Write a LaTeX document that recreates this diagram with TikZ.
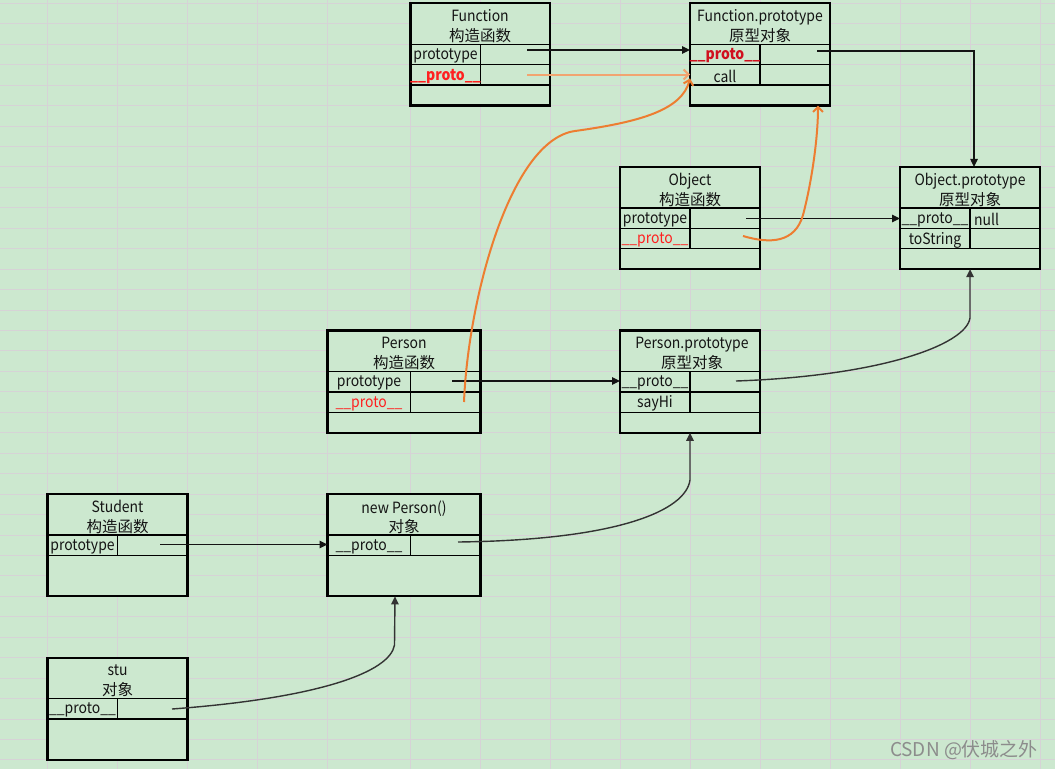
\documentclass[tikz,border=0pt]{standalone}
\usepackage{fontspec}
\setmainfont{Noto Sans CJK SC}
\newfontfamily\latn{Noto Sans CJK SC}[FakeStretch=0.9]
\usetikzlibrary{arrows.meta}
\definecolor{bg}{HTML}{CCE8CF}
\definecolor{gridc}{HTML}{D6D3D6}
\definecolor{org}{HTML}{ED7D31}
\definecolor{orgl}{HTML}{F2A470}
\definecolor{ink}{HTML}{141414}
\definecolor{curvec}{HTML}{333333}
\definecolor{redt}{HTML}{FF2020}
\definecolor{redd}{HTML}{D0101E}
\definecolor{wmc}{HTML}{8C8C8C}
\newcommand{\fullbox}[5]{%
  \node[tbl, minimum width={#3-#2}] (#1) at (#2,#4) {};
  \draw[sep] (#2,{#4+40.9}) -- (#3,{#4+40.9})
             (#2,{#4+61.35}) -- (#3,{#4+61.35})
             (#2,{#4+81.8}) -- (#3,{#4+81.8})
             (#5,{#4+40.9}) -- (#5,{#4+81.8});
}
\newcommand{\smallbox}[5]{%
  \node[tbl, minimum width={#3-#2}] (#1) at (#2,#4) {};
  \draw[sep] (#2,{#4+40.9}) -- (#3,{#4+40.9})
             (#2,{#4+61.35}) -- (#3,{#4+61.35})
             (#5,{#4+40.9}) -- (#5,{#4+61.35});
}
\begin{document}
\begin{tikzpicture}[x=1pt,y=-1pt,
  tbl/.style={draw=black, fill=bg, line width=2.2pt, anchor=north west, inner sep=0pt, outer sep=0pt, minimum height=102.25pt},
  sep/.style={draw=black, line width=1.4pt},
  txt/.style={inner sep=0pt, yshift=-1.5pt, text=ink, font=\fontsize{15.5}{18}\latn},
  hdr/.style={inner sep=0pt, yshift=-1pt, text=ink, align=center, font=\fontsize{15.5}{19.5}\selectfont},
  redtxt/.style={inner sep=0pt, yshift=-1.5pt, text=redt, font=\fontsize{15.5}{18}\latn},
  boldred/.style={inner sep=0pt, yshift=-1.5pt, text=#1, font=\fontsize{15.5}{18}\latn\bfseries},
  blk/.style={draw=ink, line width=1.2pt, -{Triangle[length=8pt,width=7.5pt]}},
  crv/.style={draw=curvec, line width=1.4pt, -{Triangle[length=8pt,width=7.5pt]}},
  orng/.style={draw=#1, line width=2pt, -{Straight Barb[length=5pt,width=10pt]}},
  gridl/.style={draw=gridc, line width=1pt}
]
\useasboundingbox (0,0) rectangle (1055,769);
\fill[bg] (0,0) rectangle (1055,769);
% spreadsheet grid
\foreach \gx in {47.5,117.5,187.5,257.5,327.5,410.5,480.5,550,620,690,760,830,900,970,1040}
  \draw[gridl] (\gx,0) -- (\gx,769);
\foreach \k in {0,...,37}
  \draw[gridl] (0,{3.3+20.45*\k}) -- (1055,{3.3+20.45*\k});

% boxes
\fullbox{Fn}{410.5}{550}{3.3}{480.5}
\fullbox{FP}{690}{830}{3.3}{760}
\fullbox{Ob}{620}{760}{166.9}{690}
\fullbox{OP}{900}{1040}{166.9}{970}
\fullbox{Pe}{327.5}{480.5}{330.5}{410.5}
\fullbox{PP}{620}{760}{330.5}{690}
\smallbox{St}{47.5}{187.5}{494.1}{117.5}
\smallbox{NP}{327.5}{480.5}{494.1}{410.5}
\smallbox{Su}{47.5}{187.5}{657.7}{117.5}

% texts
\node[hdr] (tFnH) at (480,25.3) {{\latn Function}\\构造函数};
\node[txt] (tFnA) at (445.5,54.4) {prototype};
\node[boldred=redt] (tFnB) at (445.5,74.9) {\_\_proto\_\_};

\node[hdr] (tFPH) at (760,25.3) {{\latn Function.prototype}\\原型对象};
\node[boldred=redd] (tFPA) at (725,54.4) {\_\_proto\_\_};
\node[txt] (tFPB) at (725,74.9) {call};

\node[hdr] (tObH) at (690,188.9) {{\latn Object}\\构造函数};
\node[txt] (tObA) at (655,218) {prototype};
\node[redtxt] (tObB) at (655,238.5) {\_\_proto\_\_};

\node[hdr] (tOPH) at (970,188.9) {{\latn Object.prototype}\\原型对象};
\node[txt] (tOPA) at (935,218) {\_\_proto\_\_};
\node[txt, anchor=west] (tOPN) at (974,218) {null};
\node[txt] (tOPB) at (935,238.5) {toString};

\node[hdr] (tPeH) at (404,352.5) {{\latn Person}\\构造函数};
\node[txt] (tPeA) at (369,381.6) {prototype};
\node[redtxt] (tPeB) at (369,402.1) {\_\_proto\_\_};

\node[hdr] (tPPH) at (692,352.5) {{\latn Person.prototype}\\原型对象};
\node[txt] (tPPA) at (655,381.6) {\_\_proto\_\_};
\node[txt] (tPPB) at (655,402.1) {sayHi};

\node[hdr] (tStH) at (117.5,516.1) {{\latn Student}\\构造函数};
\node[txt] (tStA) at (82.5,545.2) {prototype};

\node[hdr] (tNPH) at (404,516.1) {{\latn new Person()}\\对象};
\node[txt] (tNPA) at (369,545.2) {\_\_proto\_\_};

\node[hdr] (tSuH) at (117.5,679.7) {{\latn stu}\\对象};
\node[txt] (tSuA) at (82.5,708.8) {\_\_proto\_\_};

\node[inner sep=0pt, text=wmc, font=\fontsize{19}{22}\selectfont] (wm) at (964,750.5) {CSDN @伏城之外};

% connector start points
\coordinate (sFnA) at (527,50);
\coordinate (sFnB) at (527,74.5);
\coordinate (sFP) at (817,51);
\coordinate (sObA) at (746,218.5);
\coordinate (sObB) at (743,236);
\coordinate (sPeA) at (452,381);
\coordinate (sPeB) at (464,402);
\coordinate (sPP) at (736,381);
\coordinate (sNP) at (458,542);
\coordinate (sSt) at (160,544.5);
\coordinate (sSu) at (172,709);

% connectors
\draw[blk] (sFnA) -- (sFnA -| FP.west);
\draw[orng=orgl] (sFnB) -- (sFnB -| FP.west);
\draw[blk] (sFP) -| ([xshift=4pt]OP.north);
\draw[blk] (sObA) -- (sObA -| OP.west);
\draw[orng=org] (sObB) .. controls (770,244) and (795,243) .. (803,215)
   .. controls (811,185) and (818,140) .. ([xshift=58pt]FP.south);
\draw[blk] (sPeA) -- (sPeA -| PP.west);
\draw[orng=org] (sPeB) .. controls (468,300) and (510,140) .. (575,131)
   .. controls (640,122) and (682,110) .. ([yshift=-24pt]FP.west);
\draw[crv] (sPP) .. controls (880,376) and (966,345) .. (970,318) -- (OP.south);
\draw[crv] (sNP) .. controls (620,540) and (686,510) .. (690,480) -- (PP.south);
\draw[blk] (sSt) -- (sSt -| NP.west);
\draw[crv] (sSu) .. controls (320,698) and (390,672) .. (394.5,645) -- ([xshift=-9pt]NP.south);
\end{tikzpicture}
\end{document}
